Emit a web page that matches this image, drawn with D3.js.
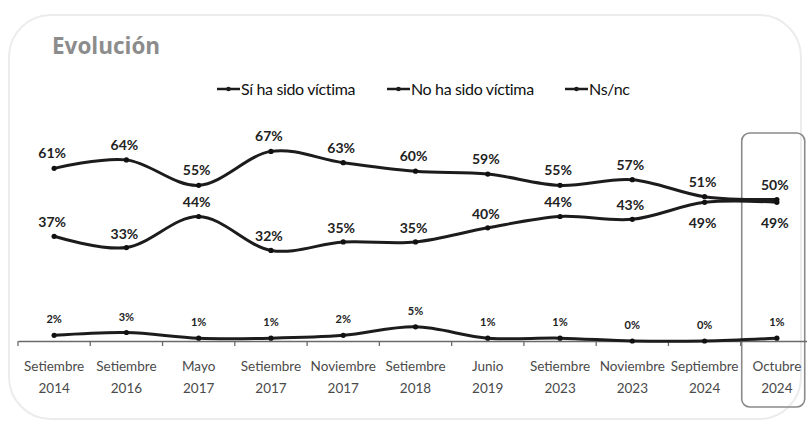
<!DOCTYPE html>
<html>
<head>
<meta charset="utf-8">
<script src="https://cdn.jsdelivr.net/npm/d3@7"></script>
<style>
  html, body { margin: 0; padding: 0; background: #fff; }
  svg { display: block; }
</style>
</head>
<body>
<svg id="chart" width="807" height="428"></svg>
<script>
const categories = [
  ["Setiembre", "2014"], ["Setiembre", "2016"], ["Mayo", "2017"], ["Setiembre", "2017"],
  ["Noviembre", "2017"], ["Setiembre", "2018"], ["Junio", "2019"], ["Setiembre", "2023"],
  ["Noviembre", "2023"], ["Septiembre", "2024"], ["Octubre", "2024"]
];
const siVictima = [61, 64, 55, 67, 63, 60, 59, 55, 57, 51, 50];
const noVictima = [37, 33, 44, 32, 35, 35, 40, 44, 43, 49, 49];
const nsnc      = [2, 3, 1, 1, 2, 5, 1, 1, 0, 0, 1];
const seriesNames = ["Sí ha sido víctima", "No ha sido víctima", "Ns/nc"];
const title = "Evolución";

const W = 807, H = 428;
const svg = d3.select("#chart");
const labelFont = "Lato, 'Open Sans', sans-serif";
const ink = "#1c1c1c";

const keys = categories.map(c => c.join(" "));
const x = d3.scaleBand().domain(keys).range([18, 813]).padding(0);
const y = d3.scaleLinear().domain([0, 100]).range([341, 58]);
const cx = i => x(keys[i]) + x.bandwidth() / 2;

// outer faint panel
svg.append("rect")
  .attr("x", 9).attr("y", 15).attr("width", 792).attr("height", 404)
  .attr("rx", 42).attr("ry", 42)
  .attr("fill", "none").attr("stroke", "#ececec").attr("stroke-width", 2);

// title
svg.append("text")
  .attr("x", 52).attr("y", 54)
  .attr("font-family", "'Open Sans', sans-serif")
  .attr("font-weight", 700).attr("font-size", 22.5)
  .attr("fill", "#8c8c8c")
  .text(title);

// highlight box around last category
const lastKey = keys[keys.length - 1];
svg.append("rect")
  .attr("x", x(lastKey) + 1).attr("y", 133)
  .attr("width", 63).attr("height", 274)
  .attr("rx", 8).attr("ry", 8)
  .attr("fill", "none").attr("stroke", "#8a8a8a").attr("stroke-width", 1.6);

// legend
const legendPos = [217, 387, 565];
const lg = svg.append("g");
seriesNames.forEach((name, i) => {
  const g = lg.append("g").attr("transform", `translate(${legendPos[i]},89)`);
  g.append("line").attr("x1", 0).attr("x2", 23).attr("y1", 0).attr("y2", 0)
    .attr("stroke", ink).attr("stroke-width", 2.5);
  g.append("circle").attr("cx", 11.5).attr("cy", 0).attr("r", 2.3).attr("fill", ink);
  g.append("text").attr("x", 24).attr("y", 6)
    .attr("font-family", labelFont).attr("font-size", 16)
    .attr("letter-spacing", -0.35)
    .attr("fill", "#111").text(name);
});

// x axis
const axisY = y(0);
const axis = d3.axisBottom(x).tickSize(0).tickFormat("");
const ag = svg.append("g").attr("transform", `translate(0,${axisY})`).call(axis);
ag.select(".domain").attr("stroke", "#6a6a6a").attr("stroke-width", 1.5);
// boundary ticks
const bounds = keys.map(k => x(k));
ag.selectAll("line.bt").data(bounds).join("line")
  .attr("class", "bt")
  .attr("x1", d => d).attr("x2", d => d).attr("y1", 0).attr("y2", 5)
  .attr("stroke", "#6a6a6a").attr("stroke-width", 1.3);
// two-line labels
ag.selectAll("g.tick").each(function(d, i) {
  const t = d3.select(this).append("text")
    .attr("font-family", labelFont).attr("font-size", 13.5)
    .attr("fill", "#4a4a4a").attr("text-anchor", "middle");
  t.append("tspan").attr("x", 0).attr("y", 30).text(categories[i][0]);
  t.append("tspan").attr("x", 0).attr("y", 52).text(categories[i][1]);
});

// lines
const line = d3.line().x((d, i) => cx(i)).y(d => y(d)).curve(d3.curveCardinal.tension(0));
[siVictima, noVictima, nsnc].forEach(s => {
  svg.append("path").datum(s).attr("d", line)
    .attr("fill", "none").attr("stroke", ink).attr("stroke-width", 3)
    .attr("stroke-linejoin", "round");
  svg.selectAll(null).data(s).join("circle")
    .attr("cx", (d, i) => cx(i)).attr("cy", d => y(d)).attr("r", 2.6).attr("fill", "#111");
});

// data labels
const fmt = d => d + "%";
const close = i => Math.abs(siVictima[i] - noVictima[i]) <= 3;
svg.selectAll(null).data(siVictima).join("text")
  .attr("x", (d, i) => cx(i) - 2).attr("y", d => y(d) - 10)
  .attr("text-anchor", "middle").attr("font-family", labelFont)
  .attr("font-size", 14).attr("font-weight", 700).attr("fill", "#222")
  .text(fmt);
svg.selectAll(null).data(noVictima).join("text")
  .attr("x", (d, i) => cx(i) - 2).attr("y", (d, i) => close(i) ? y(d) + 26 : y(d) - 9)
  .attr("text-anchor", "middle").attr("font-family", labelFont)
  .attr("font-size", 14).attr("font-weight", 700).attr("fill", "#222")
  .text(fmt);
svg.selectAll(null).data(nsnc).join("text")
  .attr("x", (d, i) => cx(i)).attr("y", d => y(d) - 12)
  .attr("text-anchor", "middle").attr("font-family", labelFont)
  .attr("font-size", 11).attr("font-weight", 700).attr("fill", "#222")
  .text(fmt);
</script>
</body>
</html>
